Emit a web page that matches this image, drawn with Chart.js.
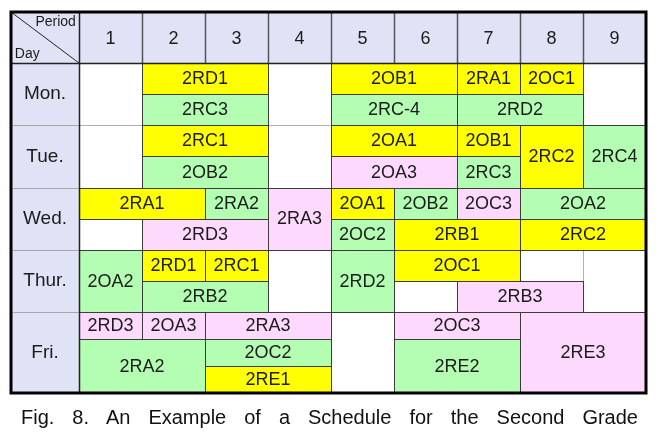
<!DOCTYPE html>
<html><head><meta charset="utf-8">
<script src="https://cdn.jsdelivr.net/npm/chart.js@4.4.0/dist/chart.umd.min.js"></script>
<style>
html,body{margin:0;padding:0;background:#fff;}
#wrap{position:relative;width:666px;height:446px;}
#caption{position:absolute;left:21px;width:617px;top:405px;font:20px "Liberation Sans",Arial,sans-serif;color:#111;text-align:justify;text-align-last:justify;line-height:24px;}
</style></head>
<body>
<div id="wrap"><canvas id="c" width="666" height="446"></canvas>
<div id="caption">Fig. 8. An Example of a Schedule for the Second Grade</div></div>
<script>
// ---- data ----
const days = ['Mon.','Tue.','Wed.','Thur.','Fri.'];
const periods = ['1','2','3','4','5','6','7','8','9'];
const daySlots = [2,2,2,2,3];
const cellNames    = ['2RD1','2RC3','2OB1','2RA1','2OC1','2RC-4','2RD2',
                      '2RC1','2OB2','2OA1','2OA3','2OB1','2RC3','2RC2','2RC4',
                      '2RA1','2RA2','2RD3','2RA3','2OA1','2OB2','2OC3','2OA2','2OC2','2RB1','2RC2',
                      '2OA2','2RD1','2RC1','2RB2','2RD2','2OC1','2RB3',
                      '2RD3','2OA3','2RA3','2RA2','2OC2','2RE1','2OC3','2RE2','2RE3'];
const cellDay      = [0,0,0,0,0,0,0, 1,1,1,1,1,1,1,1, 2,2,2,2,2,2,2,2,2,2,2, 3,3,3,3,3,3,3, 4,4,4,4,4,4,4,4,4];
const cellFrom     = [2,2,5,7,8,5,7, 2,2,5,5,7,7,8,9, 1,3,2,4,5,6,7,8,5,6,8, 1,2,3,2,5,6,7, 1,2,3,1,3,3,6,6,8];
const cellTo       = [3,3,6,7,8,6,8, 3,3,6,6,7,7,8,9, 2,3,3,4,5,6,7,9,5,7,9, 1,2,3,3,5,7,8, 1,2,4,2,4,4,7,7,9];
const cellSlotFrom = [0,1,0,0,0,1,1, 0,1,0,1,0,1,0,0, 0,0,1,0,0,0,0,0,1,1,1, 0,0,0,1,0,0,1, 0,0,0,1,1,2,0,1,0];
const cellSlotTo   = [0,1,0,0,0,1,1, 0,1,0,1,0,1,1,1, 0,0,1,1,0,0,0,0,1,1,1, 1,0,0,1,1,0,1, 0,0,0,2,1,2,0,2,2];
const cellGroup    = ['Y','G','Y','Y','Y','G','G', 'Y','G','Y','P','Y','G','Y','G',
                      'Y','G','P','P','Y','G','P','G','G','Y','Y',
                      'G','Y','Y','G','G','Y','P',
                      'P','P','P','G','G','Y','P','G','P'];

// ---- layout / style ----
const dayWeight = [1,1,1,1,1.3];
const headerH = 0.82, labelW = 1.08;
const groupColor = {Y:'#ffff00', G:'#b3feb3', P:'#fdd9fd'};
const headerBg = '#e0e3f6';
const FONT = '"Liberation Sans", Arial, sans-serif';

const dayTop = [];
{ let t = 0; for (let i=0;i<days.length;i++){ dayTop.push(t); t += dayWeight[i]; } }
const yEnd = dayTop[days.length-1] + dayWeight[days.length-1];
function slotY(d, s){ return dayTop[d] + s / daySlots[d] * dayWeight[d]; }

const tablePlugin = {
  id:'table',
  afterDatasetsDraw(chart){
    const {ctx, scales:{x, y}} = chart;
    const px = v => x.getPixelForValue(v), py = v => y.getPixelForValue(v);
    const snap = v => Math.round(v) + 0.5;
    function rect(x0,y0,x1,y1,fill,stroke,lw){
      const a = snap(px(x0)), b = snap(py(y0)), c = snap(px(x1)), e = snap(py(y1));
      if (fill){ ctx.fillStyle = fill; ctx.fillRect(a,b,c-a,e-b); }
      if (stroke){ ctx.strokeStyle = stroke; ctx.lineWidth = lw||1; ctx.strokeRect(a,b,c-a,e-b); }
    }
    function text(t, xv, yv, size, align, color){
      ctx.font = size + 'px ' + FONT; ctx.fillStyle = color || '#1c1c1c';
      ctx.textAlign = align || 'center'; ctx.textBaseline = 'middle';
      ctx.fillText(t, px(xv), py(yv));
    }
    ctx.save();
    // header backgrounds
    rect(-labelW, -headerH, 9, 0, headerBg);
    rect(-labelW, 0, 0, yEnd, headerBg);
    // empty grid
    for (let d=0; d<days.length; d++){
      for (let p=1; p<=9; p++) rect(p-1, dayTop[d], p, dayTop[d]+dayWeight[d], '#ffffff', '#b0b0b0', 1);
    }
    // cells
    for (let i=0;i<cellNames.length;i++){
      const d = cellDay[i];
      const y0 = slotY(d, cellSlotFrom[i]), y1 = slotY(d, cellSlotTo[i]+1);
      rect(cellFrom[i]-1, y0, cellTo[i], y1, groupColor[cellGroup[i]], '#3c3c3c', 1);
    }
    for (let i=0;i<cellNames.length;i++){
      const d = cellDay[i];
      const y0 = slotY(d, cellSlotFrom[i]), y1 = slotY(d, cellSlotTo[i]+1);
      text(cellNames[i], (cellFrom[i]-1+cellTo[i])/2, (y0+y1)/2 + 0.01, 18);
    }
    // header lines
    ctx.strokeStyle = '#555'; ctx.lineWidth = 1.5;
    for (let p=1; p<=8; p++){
      ctx.beginPath(); ctx.moveTo(snap(px(p)), py(-headerH)); ctx.lineTo(snap(px(p)), py(0)); ctx.stroke();
    }
    ctx.lineWidth = 1; ctx.strokeStyle = '#a8a8a8';
    for (let d=1; d<days.length; d++){
      const yy = snap(py(dayTop[d]));
      ctx.beginPath(); ctx.moveTo(px(-labelW), yy); ctx.lineTo(px(0), yy); ctx.stroke();
    }
    ctx.strokeStyle = '#222'; ctx.lineWidth = 1.5;
    ctx.beginPath(); ctx.moveTo(px(-labelW), snap(py(0))); ctx.lineTo(px(9), snap(py(0))); ctx.stroke();
    ctx.beginPath(); ctx.moveTo(snap(px(0)), py(-headerH)); ctx.lineTo(snap(px(0)), py(yEnd)); ctx.stroke();
    // diagonal
    ctx.strokeStyle = '#222'; ctx.lineWidth = 1;
    ctx.beginPath(); ctx.moveTo(px(-labelW), py(-headerH)); ctx.lineTo(px(0), py(0)); ctx.stroke();
    // header texts
    text('Period', -0.05, -headerH*0.8, 14, 'right');
    text('Day', -labelW+0.06, -headerH*0.18, 14, 'left');
    periods.forEach((t,i)=> text(t, i+0.5, -headerH*0.48, 18));
    days.forEach((t,d)=> text(t, -labelW/2, dayTop[d]+dayWeight[d]/2, 19));
    // outer border
    ctx.strokeStyle = '#000'; ctx.lineWidth = 3;
    ctx.strokeRect(px(-labelW), py(-headerH), px(9)-px(-labelW), py(yEnd)-py(-headerH));
    ctx.restore();
  }
};

new Chart(document.getElementById('c'), {
  type:'scatter',
  data:{datasets:[{data:[], pointRadius:0}]},
  options:{
    responsive:false, animation:false,
    layout:{padding:{left:11, top:12, right:20, bottom:53}},
    scales:{
      x:{type:'linear', min:-labelW, max:9, display:false},
      y:{type:'linear', min:-headerH, max:yEnd, reverse:true, display:false}
    },
    plugins:{legend:{display:false}, tooltip:{enabled:false}}
  },
  plugins:[tablePlugin]
});
</script>
</body></html>
